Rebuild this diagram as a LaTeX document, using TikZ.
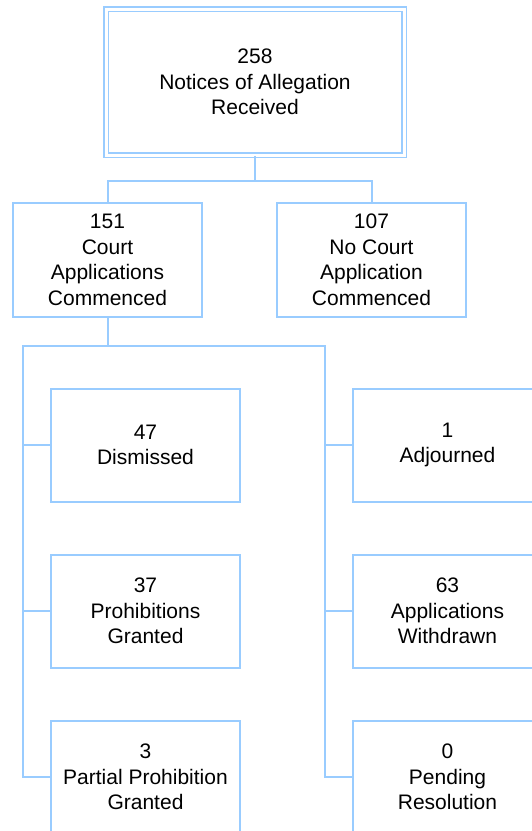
\documentclass[tikz,border=0pt]{standalone}
\usepackage{fontspec}
\setmainfont{Liberation Sans}
\definecolor{linkblue}{RGB}{153,204,255}
\begin{document}
\begin{tikzpicture}[x=1pt,y=-1pt,
  box/.style={draw=linkblue, line width=2pt, fill=white, inner sep=0pt,
    minimum width=189pt, minimum height=113pt, align=center,
    font=\fontsize{21}{25.5}\selectfont},
  link/.style={draw=linkblue, line width=2pt}]
\useasboundingbox (0,0) rectangle (532,831);
\clip (0,0) rectangle (532,831);

% root node with a double frame
\node[box, double=white, double distance=3pt, line width=1.5pt,
  minimum width=298pt, minimum height=146pt] (root) at (255,82)
  {258\\Notices of Allegation\\Received};

% second level
\node[box, minimum height=114pt] (court) at (107.5,260) {151\\Court\\Applications\\Commenced};
\node[box, minimum height=114pt] (nocourt) at (371.5,260) {107\\No Court\\Application\\Commenced};

% outcomes
\node[box] (dismissed) at (145.5,445) {47\\Dismissed};
\node[box] (prohib) at (145.5,611) {37\\Prohibitions\\Granted};
\node[box] (partial) at (145.5,777) {3\\Partial Prohibition\\Granted};
\node[box] (adjourned) at (447.5,445) {1\\Adjourned};
\node[box] (withdrawn) at (447.5,611) {63\\Applications\\Withdrawn};
\node[box] (pending) at (447.5,777) {0\\Pending\\Resolution};

% connectors
\coordinate (busA) at (255,181);
\draw[link] (root.south) -- (busA);
\draw[link] (court.north) |- (busA) -| (nocourt.north);

\coordinate (busB) at (107.5,346);
\coordinate (leftTop) at (23,346);
\coordinate (rightTop) at (325,346);
\draw[link] (court.south) -- (busB);
\draw[link] (partial.west) -| (leftTop) -- (rightTop) |- (pending.west);
\draw[link] (leftTop |- dismissed.west) -- (dismissed.west);
\draw[link] (leftTop |- prohib.west) -- (prohib.west);
\draw[link] (rightTop |- adjourned.west) -- (adjourned.west);
\draw[link] (rightTop |- withdrawn.west) -- (withdrawn.west);
\end{tikzpicture}
\end{document}
